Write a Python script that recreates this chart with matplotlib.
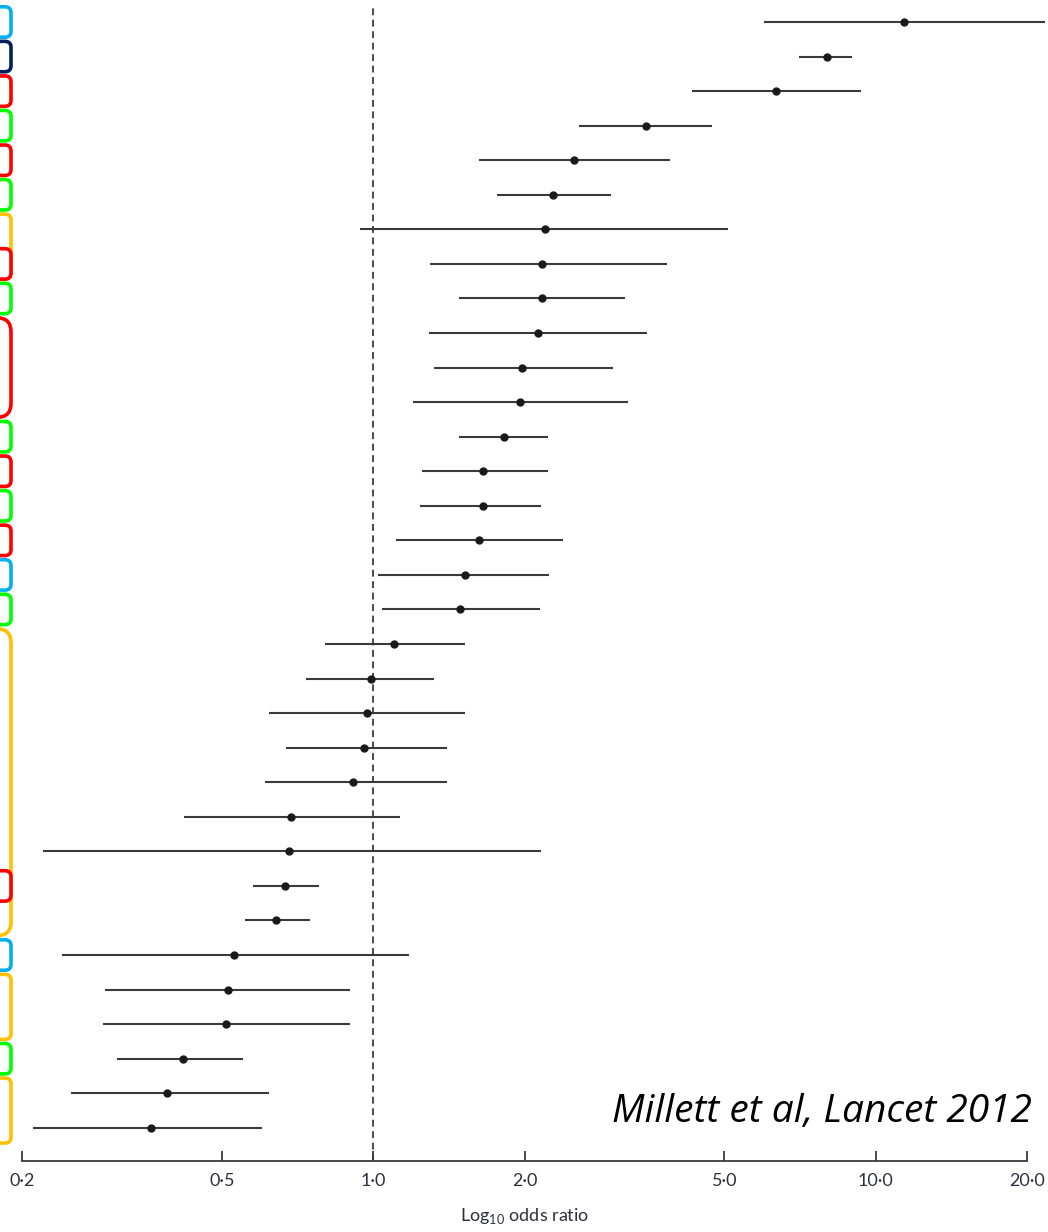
import numpy as np
import matplotlib
matplotlib.use("Agg")
import matplotlib.pyplot as plt
from matplotlib.patches import FancyBboxPatch
from matplotlib.ticker import NullLocator

# ---- data (odds ratio with 95% CI), top to bottom ----
or_vals = [11.4, 8.0, 6.33, 3.49, 2.51, 2.28, 2.20, 2.17, 2.17, 2.13, 1.98,
           1.96, 1.82, 1.65, 1.65, 1.62, 1.52, 1.49, 1.10, 0.99, 0.97, 0.96,
           0.91, 0.686, 0.68, 0.667, 0.64, 0.528, 0.514, 0.51, 0.418, 0.389,
           0.361]
lo_vals = [5.99, 7.04, 4.31, 2.57, 1.62, 1.76, 0.94, 1.30, 1.48, 1.29, 1.32,
           1.20, 1.48, 1.25, 1.24, 1.11, 1.02, 1.04, 0.80, 0.735, 0.62, 0.67,
           0.61, 0.42, 0.22, 0.576, 0.556, 0.24, 0.293, 0.29, 0.309, 0.25,
           0.21]
hi_vals = [21.7, 8.97, 9.35, 4.72, 3.90, 2.97, 5.08, 3.84, 3.17, 3.51, 3.00,
           3.21, 2.23, 2.23, 2.16, 2.39, 2.24, 2.15, 1.52, 1.32, 1.52, 1.40,
           1.40, 1.13, 2.16, 0.78, 0.75, 1.18, 0.90, 0.897, 0.55, 0.62, 0.60]

tick_vals = [0.2, 0.5, 1.0, 2.0, 5.0, 10.0, 20.0]
tick_labels = ["0·2", "0·5", "1·0", "2·0", "5·0", "10·0", "20·0"]

# category boxes at the left edge (row ranges, 1-based from top)
box_colors = ["#00B0F0", "#002060", "#FF0000", "#00FF00", "#FF0000", "#00FF00",
              "#FFC000", "#FF0000", "#00FF00", "#FF0000", "#00FF00", "#FF0000",
              "#00FF00", "#FF0000", "#00B0F0", "#00FF00", "#FFC000", "#FF0000",
              "#00B0F0", "#FFC000", "#00FF00", "#FFC000"]
box_first = [1, 2, 3, 4, 5, 6, 7, 8, 9, 10, 13, 14, 15, 16, 17, 18, 19, 26,
             28, 29, 31, 32]
box_last = [1, 2, 3, 4, 5, 6, 8, 8, 9, 12, 13, 14, 15, 16, 17, 18, 27, 26,
            28, 30, 31, 33]

W, H = 1048, 1232
fig = plt.figure(figsize=(W / 100, H / 100), dpi=100)
fig.patch.set_facecolor("white")
ax = fig.add_axes([22 / W, 1 - 1161 / H, (1027 - 22) / W, (1161 - 8) / H])

n = len(or_vals)
rows = np.arange(1, n + 1)

ax.set_xscale("log")
ax.set_xlim(0.2, 20)
ax.set_ylim(33.96, 0.595)

ax.axvline(1.0, color="#1a1a1a", lw=1.1, ls=(0, (4.5, 3)), zorder=1)
ax.hlines(rows, lo_vals, hi_vals, color="#3a3a3a", lw=1.5, zorder=2,
          clip_on=False)
ax.plot(or_vals, rows, "o", ms=5, color="#1a1a1a", zorder=3, clip_on=False)

for s in ["top", "left", "right"]:
    ax.spines[s].set_visible(False)
ax.spines["bottom"].set_color("#3a3a3a")
ax.spines["bottom"].set_linewidth(1.3)
ax.set_yticks([])
ax.set_xticks(tick_vals)
ax.set_xticklabels(tick_labels)
ax.xaxis.set_minor_locator(NullLocator())
ax.tick_params(axis="x", direction="in", length=7, width=1.3,
               color="#3a3a3a", pad=9, labelsize=13,
               labelcolor="#2f2f40")
for lab in ax.get_xticklabels():
    lab.set_family("Lato")
ax.set_xlabel("Log$_{\\mathregular{10}}$ odds ratio", family="Lato",
              fontsize=13, color="#2f2f40", labelpad=12)

# category boxes (partially off-canvas to the left)
fig.canvas.draw()
for c, a, b in zip(box_colors, box_first, box_last):
    y_top = ax.transData.transform((1.0, a - 0.44))[1]
    y_bot = ax.transData.transform((1.0, b + 0.44))[1]
    big = (b - a) >= 2
    rs = 14 if big else 6
    p = FancyBboxPatch((-60, y_bot), 71, y_top - y_bot,
                       boxstyle=f"round,pad=0,rounding_size={rs}",
                       fill=True, facecolor="white", edgecolor=c, lw=2.6,
                       transform=None, clip_on=False, zorder=5)
    fig.add_artist(p)

fig.text(1032 / W, 1 - 1122 / H, "Millett et al, Lancet 2012",
         family="Open Sans", style="italic", fontsize=28, color="black",
         ha="right", va="baseline")

fig.savefig("out.png", dpi=100, facecolor="white")
